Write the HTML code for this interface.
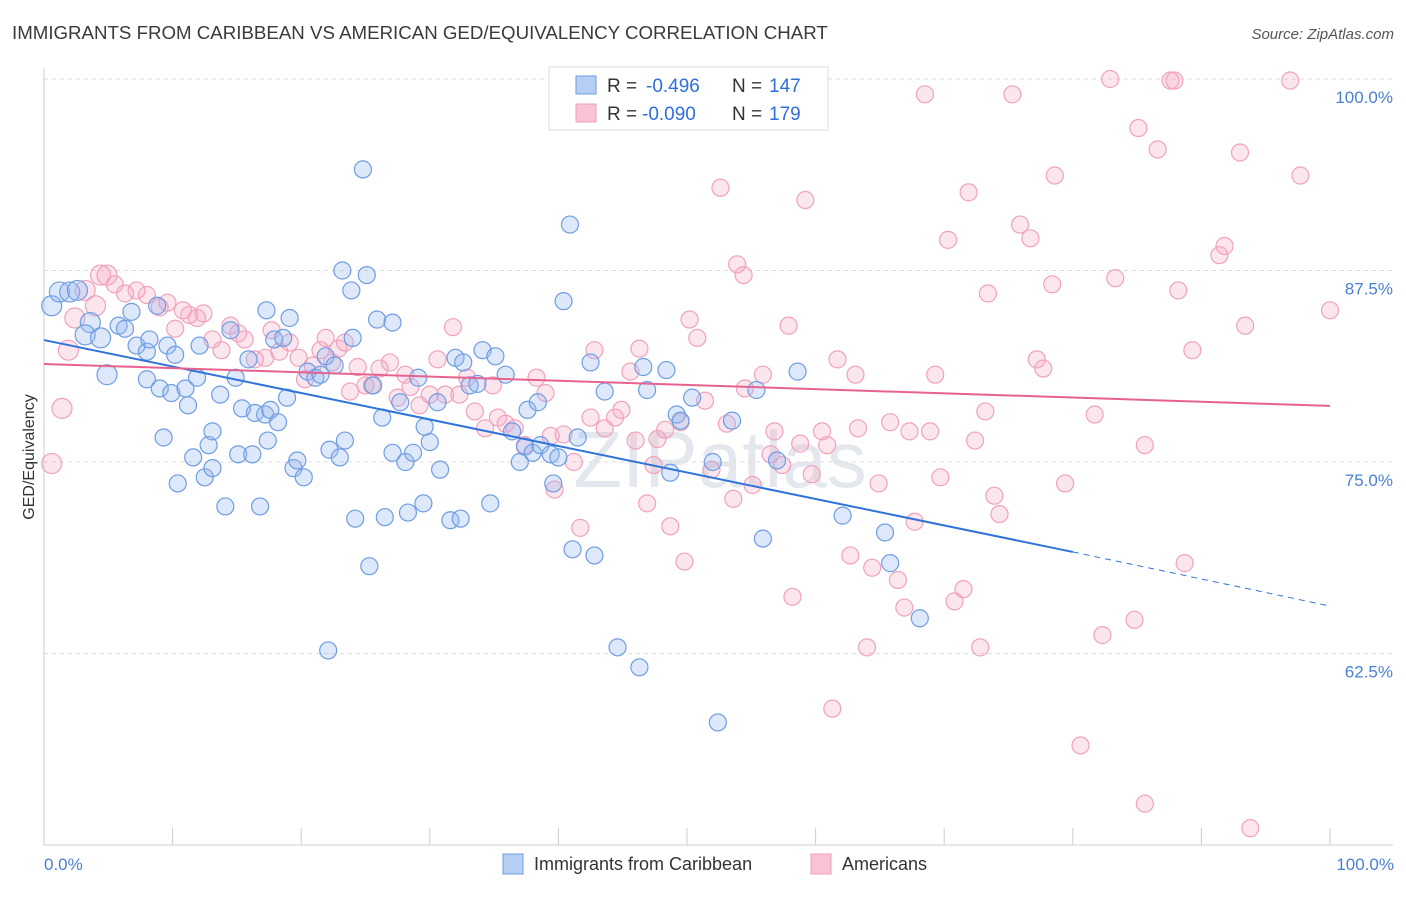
<!DOCTYPE html>
<html><head><meta charset="utf-8">
<style>
body{margin:0;background:#fff;font-family:"Liberation Sans",sans-serif;}
svg text{font-family:"Liberation Sans",sans-serif;}
</style></head>
<body>
<svg id="chart" width="1406" height="892" viewBox="0 0 1406 892" xmlns="http://www.w3.org/2000/svg">
<text x="12" y="39" font-size="18.7" fill="#3a3a3a">IMMIGRANTS FROM CARIBBEAN VS AMERICAN GED/EQUIVALENCY CORRELATION CHART</text>
<text x="1394" y="39" font-size="15" fill="#555" font-style="italic" text-anchor="end">Source: ZipAtlas.com</text>
<text x="720" y="487" font-size="80" fill="#e4e8ee" text-anchor="middle" font-family="Liberation Serif">ZIPatlas</text>
<g id="grid"></g>
<g id="marks"></g>
<text transform="translate(34,457) rotate(-90)" font-size="16" fill="#333" text-anchor="middle">GED/Equivalency</text>
<text x="44" y="870" font-size="17" fill="#4a7fd6">0.0%</text>
<text x="1394" y="870" font-size="17" fill="#4a7fd6" text-anchor="end">100.0%</text>
<g>
<rect x="549" y="67" width="279" height="63" fill="#fff" stroke="#ddd"/>
<rect x="576" y="76" width="20" height="18" fill="#b8cff5" stroke="#6b9be0"/>
<text x="607" y="92" font-size="19" fill="#333">R =</text>
<text x="646" y="92" font-size="19" fill="#2f6fdc">-0.496</text>
<text x="732" y="92" font-size="19" fill="#333">N =</text>
<text x="769" y="92" font-size="19" fill="#2f6fdc">147</text>
<rect x="576" y="104" width="20" height="18" fill="#f8c4d4" stroke="#ef9db8"/>
<text x="607" y="120" font-size="19" fill="#333">R =</text>
<text x="642" y="120" font-size="19" fill="#2f6fdc">-0.090</text>
<text x="732" y="120" font-size="19" fill="#333">N =</text>
<text x="769" y="120" font-size="19" fill="#2f6fdc">179</text>
</g>
<g>
<rect x="503" y="854" width="20" height="20" fill="#b8cff5" stroke="#6b9be0"/>
<text x="534" y="870" font-size="18" fill="#333">Immigrants from Caribbean</text>
<rect x="811" y="854" width="20" height="20" fill="#f8c4d4" stroke="#ef9db8"/>
<text x="842" y="870" font-size="18" fill="#333">Americans</text>
</g>
</svg>
<script>
const yTicks=[100,87.5,75,62.5];
const yTickLabels=["100.0%","87.5%","75.0%","62.5%"];
const xTicks=[0,10,20,30,40,50,60,70,80,90,100];
const blueX=[0.6,1.2,2.0,2.6,3.6,3.2,4.4,4.9,5.8,6.3,6.8,7.2,8.0,8.2,8.0,8.8,9.0,9.3,9.6,10.2,9.9,10.4,11.0,11.2,11.6,11.9,12.1,12.5,12.8,13.1,13.1,13.7,14.1,14.5,14.9,15.1,15.4,15.9,16.2,16.4,16.8,17.2,17.4,17.6,17.9,18.2,18.6,18.9,19.1,17.3,19.4,19.7,20.2,20.5,21.1,21.5,21.9,22.1,22.2,22.6,23.0,23.2,23.4,23.9,24.0,24.2,24.8,25.1,25.3,25.6,25.9,26.3,26.5,27.1,27.1,27.7,28.1,28.3,28.7,29.1,29.5,29.6,30.0,30.6,30.8,31.6,32.0,32.4,32.6,33.1,33.7,34.1,34.7,35.1,35.9,36.4,37.0,37.4,37.6,38.0,38.4,38.6,39.4,39.6,40.0,40.4,40.9,41.1,41.5,42.5,42.8,43.6,44.6,46.3,46.6,46.9,48.4,48.7,49.2,49.5,50.4,52.0,52.4,53.5,55.4,55.9,57.0,58.6,62.1,65.4,65.8,68.1];
const blueY=[85.2,86.1,86.1,86.2,84.1,83.3,83.1,80.7,83.9,83.7,84.8,82.6,82.2,83.0,80.4,85.2,79.8,76.6,82.6,82.0,79.5,73.6,79.8,78.7,75.3,80.5,82.6,74.0,76.1,77.0,74.6,79.4,72.1,83.6,80.5,75.5,78.5,81.7,75.5,78.2,72.1,78.1,76.4,78.4,83.0,77.6,83.1,79.2,84.4,84.9,74.6,75.1,74.0,80.9,80.5,80.7,81.9,62.7,75.8,81.3,75.3,87.5,76.4,86.2,83.1,71.3,94.1,87.2,68.2,80.0,84.3,77.9,71.4,84.1,75.6,78.9,75.0,71.7,75.6,80.5,72.3,77.3,76.3,78.9,74.5,71.2,81.8,71.3,81.5,80.0,80.1,82.3,72.3,81.9,80.7,77.0,75.0,76.0,78.4,75.6,78.9,76.1,75.5,73.6,75.3,85.5,90.5,69.3,76.6,81.5,68.9,79.6,62.9,61.6,81.2,79.7,81.0,74.3,78.1,77.7,79.2,75.0,58.0,77.7,79.7,70.0,75.1,80.9,71.5,70.4,68.4,64.8];
const pinkX=[0.6,1.4,1.9,2.4,3.2,4.0,4.4,4.9,5.5,6.3,7.2,8.0,9.0,9.6,10.2,10.8,11.3,11.9,12.4,13.1,13.8,14.5,15.1,15.6,16.4,17.2,17.7,18.3,19.1,19.8,20.3,20.9,21.5,21.9,22.4,22.9,23.4,23.8,24.4,25.0,25.5,26.1,26.9,27.5,28.1,28.5,29.2,30.0,30.6,31.2,31.8,32.3,32.9,33.5,34.3,34.9,35.3,35.9,36.6,37.4,38.3,39.0,39.4,39.7,40.4,41.2,41.7,42.5,42.8,43.6,44.4,44.9,45.6,46.0,46.3,46.9,47.4,47.7,48.3,48.7,49.5,49.8,50.2,50.8,51.4,51.9,52.6,53.1,53.6,53.9,54.4,54.5,55.1,55.9,56.5,56.8,57.4,57.9,58.2,58.8,59.2,59.7,60.5,60.9,61.3,61.7,62.7,63.1,63.3,64.0,64.4,64.9,65.8,66.4,66.9,67.3,67.7,68.5,68.9,69.3,69.7,70.3,70.8,71.5,71.9,72.4,72.8,73.2,73.4,73.9,74.3,75.3,75.9,76.7,77.2,77.7,78.6,78.4,79.4,80.6,81.7,82.3,82.9,83.3,85.1,85.6,84.8,85.6,86.6,87.6,87.9,88.2,88.7,89.3,91.4,91.8,93.0,93.4,93.8,96.9,97.7,100];
const pinkY=[74.9,78.5,82.3,84.4,86.2,85.2,87.2,87.2,86.6,86.0,86.2,85.9,85.1,85.4,83.7,84.9,84.6,84.4,84.7,83.0,82.3,83.9,83.4,83.0,81.7,81.8,83.6,82.2,82.8,81.8,80.4,81.3,82.3,83.1,81.5,82.4,82.8,79.6,81.2,80.0,80.0,81.1,81.5,79.2,80.7,79.9,78.7,79.4,81.7,79.4,83.8,79.4,80.5,78.3,77.2,80.0,77.9,77.5,77.2,76.1,80.5,79.5,76.7,73.2,76.8,75.0,70.7,77.9,82.3,77.2,77.9,78.4,80.9,76.4,82.4,72.3,74.8,76.5,77.1,70.8,77.6,68.5,84.3,83.1,79.0,74.5,92.9,77.5,72.6,87.9,87.2,79.8,73.5,80.7,75.5,77.0,74.8,83.9,66.2,76.2,92.1,74.2,77.0,76.1,58.9,81.7,68.9,80.7,77.2,62.9,68.1,73.6,77.6,67.3,65.5,77.0,71.1,99.0,77.0,80.7,74.0,89.5,65.9,66.7,92.6,76.4,62.9,78.3,86.0,72.8,71.6,99.0,90.5,89.6,81.7,81.1,93.7,86.6,73.6,56.5,78.1,63.7,100,87.0,96.8,76.1,64.7,52.7,95.4,99.9,99.9,86.2,68.4,82.3,88.5,89.1,95.2,83.9,51.1,99.9,93.7,84.9];
const blueTrendX=[0,80,100];
const blueTrendY=[82.96,69.13,65.6];
const pinkTrendX=[0,100];
const pinkTrendY=[81.4,78.66];

const NS="http://www.w3.org/2000/svg";
const X0=44,X1=1330,Y100=79,PXPER=191.5/12.5;
function sx(v){return X0+(X1-X0)*v/100;}
function sy(v){return Y100+(100-v)*PXPER;}
function mk(tag,attrs,parent){const e=document.createElementNS(NS,tag);for(const k in attrs)e.setAttribute(k,attrs[k]);parent.appendChild(e);return e;}
const grid=document.getElementById('grid'),marks=document.getElementById('marks');
yTicks.forEach((t,i)=>{
  const l=mk('line',{x1:X0,x2:1393,y1:sy(t),y2:sy(t),stroke:'#dcdcdc','stroke-dasharray':'4,4'},grid);
  
  
  const tx=mk('text',{x:1393,y:sy(t)+24,'font-size':17,fill:'#4a7fd6','text-anchor':'end'},grid);
  tx.textContent=yTickLabels[i];
  
  
});
const ax=mk('line',{x1:X0,x2:1393,y1:845,y2:845,stroke:'#ccc'},grid);


const ay=mk('line',{x1:X0,x2:X0,y1:68,y2:845,stroke:'#ccc'},grid);


xTicks.forEach(t=>{
  const l=mk('line',{x1:sx(t),x2:sx(t),y1:828,y2:845,stroke:'#ccc'},grid);
  
  
});
function dots(xs,ys,fill,stroke,name){
  xs.forEach((x,i)=>{
    const r=(x<5)?10:8.5;
    const c=mk('circle',{cx:sx(x),cy:sy(ys[i]),r:r,fill:fill,stroke:stroke,'stroke-width':1.2},marks);
    
    
  });
}
dots(pinkX,pinkY,'rgba(245,165,192,0.28)','#f0a2bd','americans-point');
dots(blueX,blueY,'rgba(150,185,240,0.32)','#6f9de2','caribbean-point');
const bt=mk('line',{x1:sx(blueTrendX[0]),y1:sy(blueTrendY[0]),x2:sx(blueTrendX[1]),y2:sy(blueTrendY[1]),stroke:'#2f74d8','stroke-width':2},marks);


const bd=mk('line',{x1:sx(blueTrendX[1]),y1:sy(blueTrendY[1]),x2:sx(blueTrendX[2]),y2:sy(blueTrendY[2]),stroke:'#2f74d8','stroke-width':1,'stroke-dasharray':'6,5'},marks);


const pt=mk('line',{x1:sx(pinkTrendX[0]),y1:sy(pinkTrendY[0]),x2:sx(pinkTrendX[1]),y2:sy(pinkTrendY[1]),stroke:'#e8628f','stroke-width':2},marks);


</script>
</body></html>
